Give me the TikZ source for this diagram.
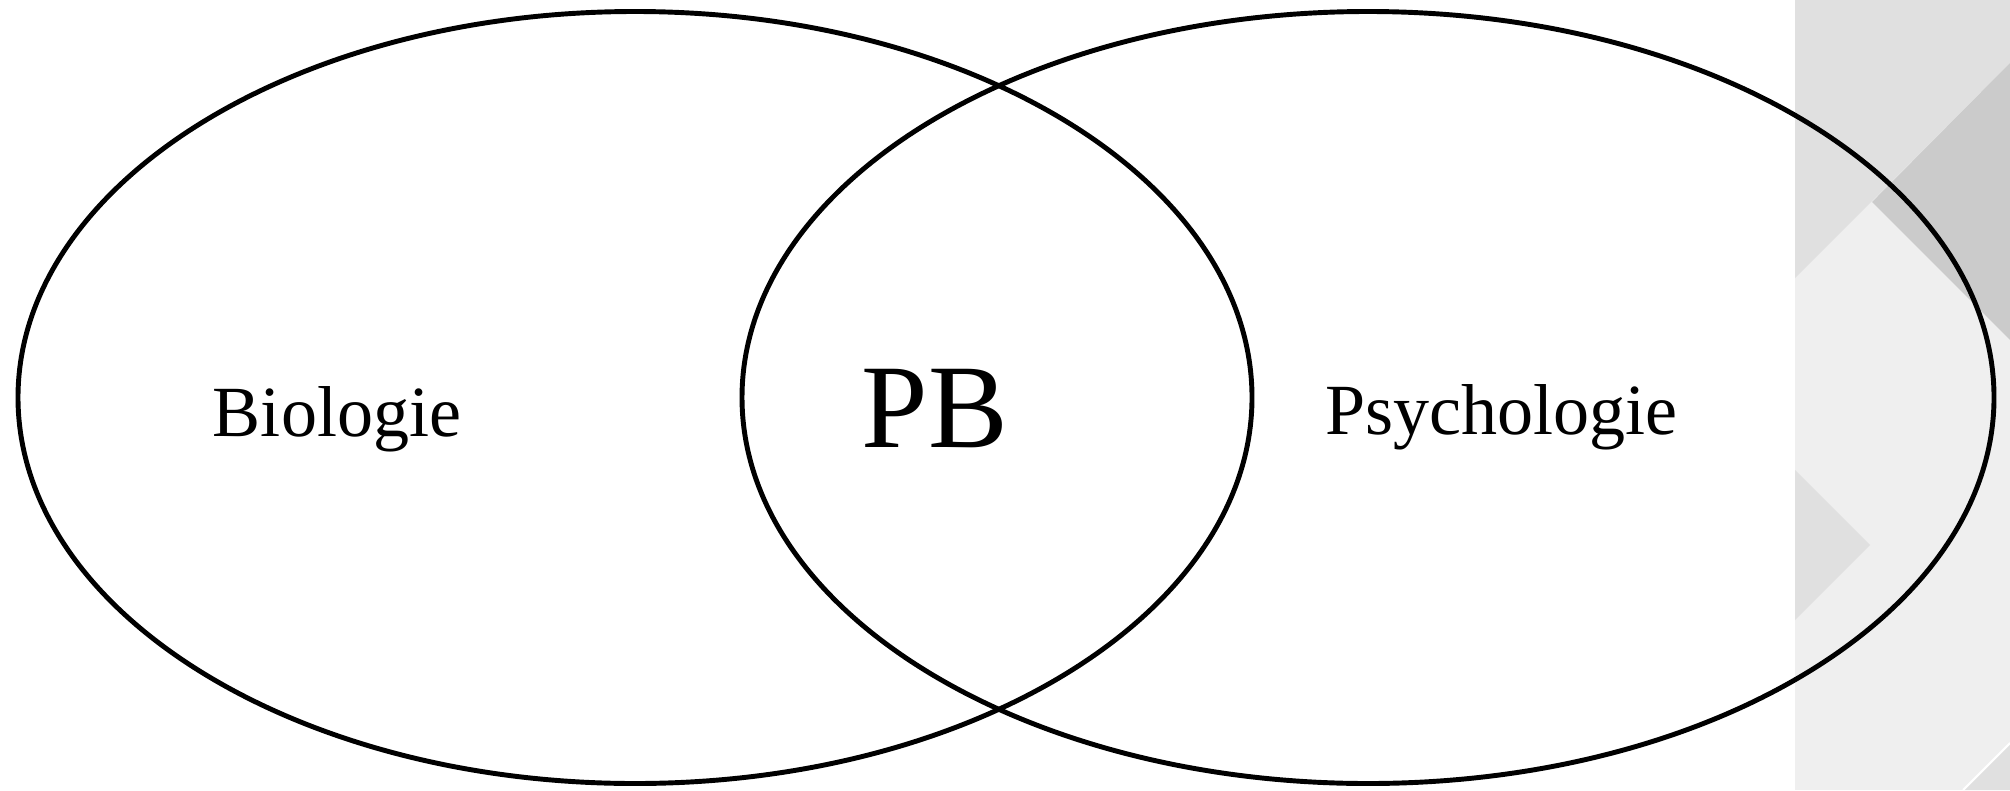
\documentclass[tikz,border=0pt]{standalone}
\usepackage{fontspec}
\setmainfont{Liberation Serif}
\definecolor{panelgray}{HTML}{EFEFEF}
\definecolor{midgray}{HTML}{E0E0E0}
\definecolor{darkgray}{HTML}{CBCBCB}
\tikzset{
  set/.style={line width=1.4pt},
  field/.style={anchor=base,font=\fontsize{20.5}{24}\selectfont},
  overlap/.style={anchor=base,font=\fontsize{34}{40}\selectfont}
}
\begin{document}
\begin{tikzpicture}
    \useasboundingbox (0,0) rectangle (20.1,7.9);
    % background panel on the right
    \fill[panelgray] (17.95,0) rectangle (20.1,7.9);
    \fill[midgray] (17.95,7.9) -- (20.1,7.9) -- (20.1,7.27) -- (17.95,5.12) -- cycle;
    \fill[darkgray] (18.72,5.88) -- (20.1,7.27) -- (20.1,4.50) -- cycle;
    \fill[midgray] (17.95,3.20) -- (18.70,2.45) -- (17.95,1.70) -- cycle;
    \fill[midgray] (20.1,0.47) -- (20.1,0) -- (19.63,0) -- cycle;
    \draw[white,line width=0.6pt] (20.1,0.47) -- (19.63,0);
    % the two sets
    \draw[set] (6.35,3.925) ellipse (6.17 and 3.86);
    \draw[set] (13.68,3.925) ellipse (6.26 and 3.86);
    % labels
    \node[field] (bio) at (3.37,3.54) {Biologie};
    \node[field] (psy) at (15.015,3.56) {Psychologie};
    \node[overlap] (pb) at (9.35,3.43) {PB};
\end{tikzpicture}
\end{document}
